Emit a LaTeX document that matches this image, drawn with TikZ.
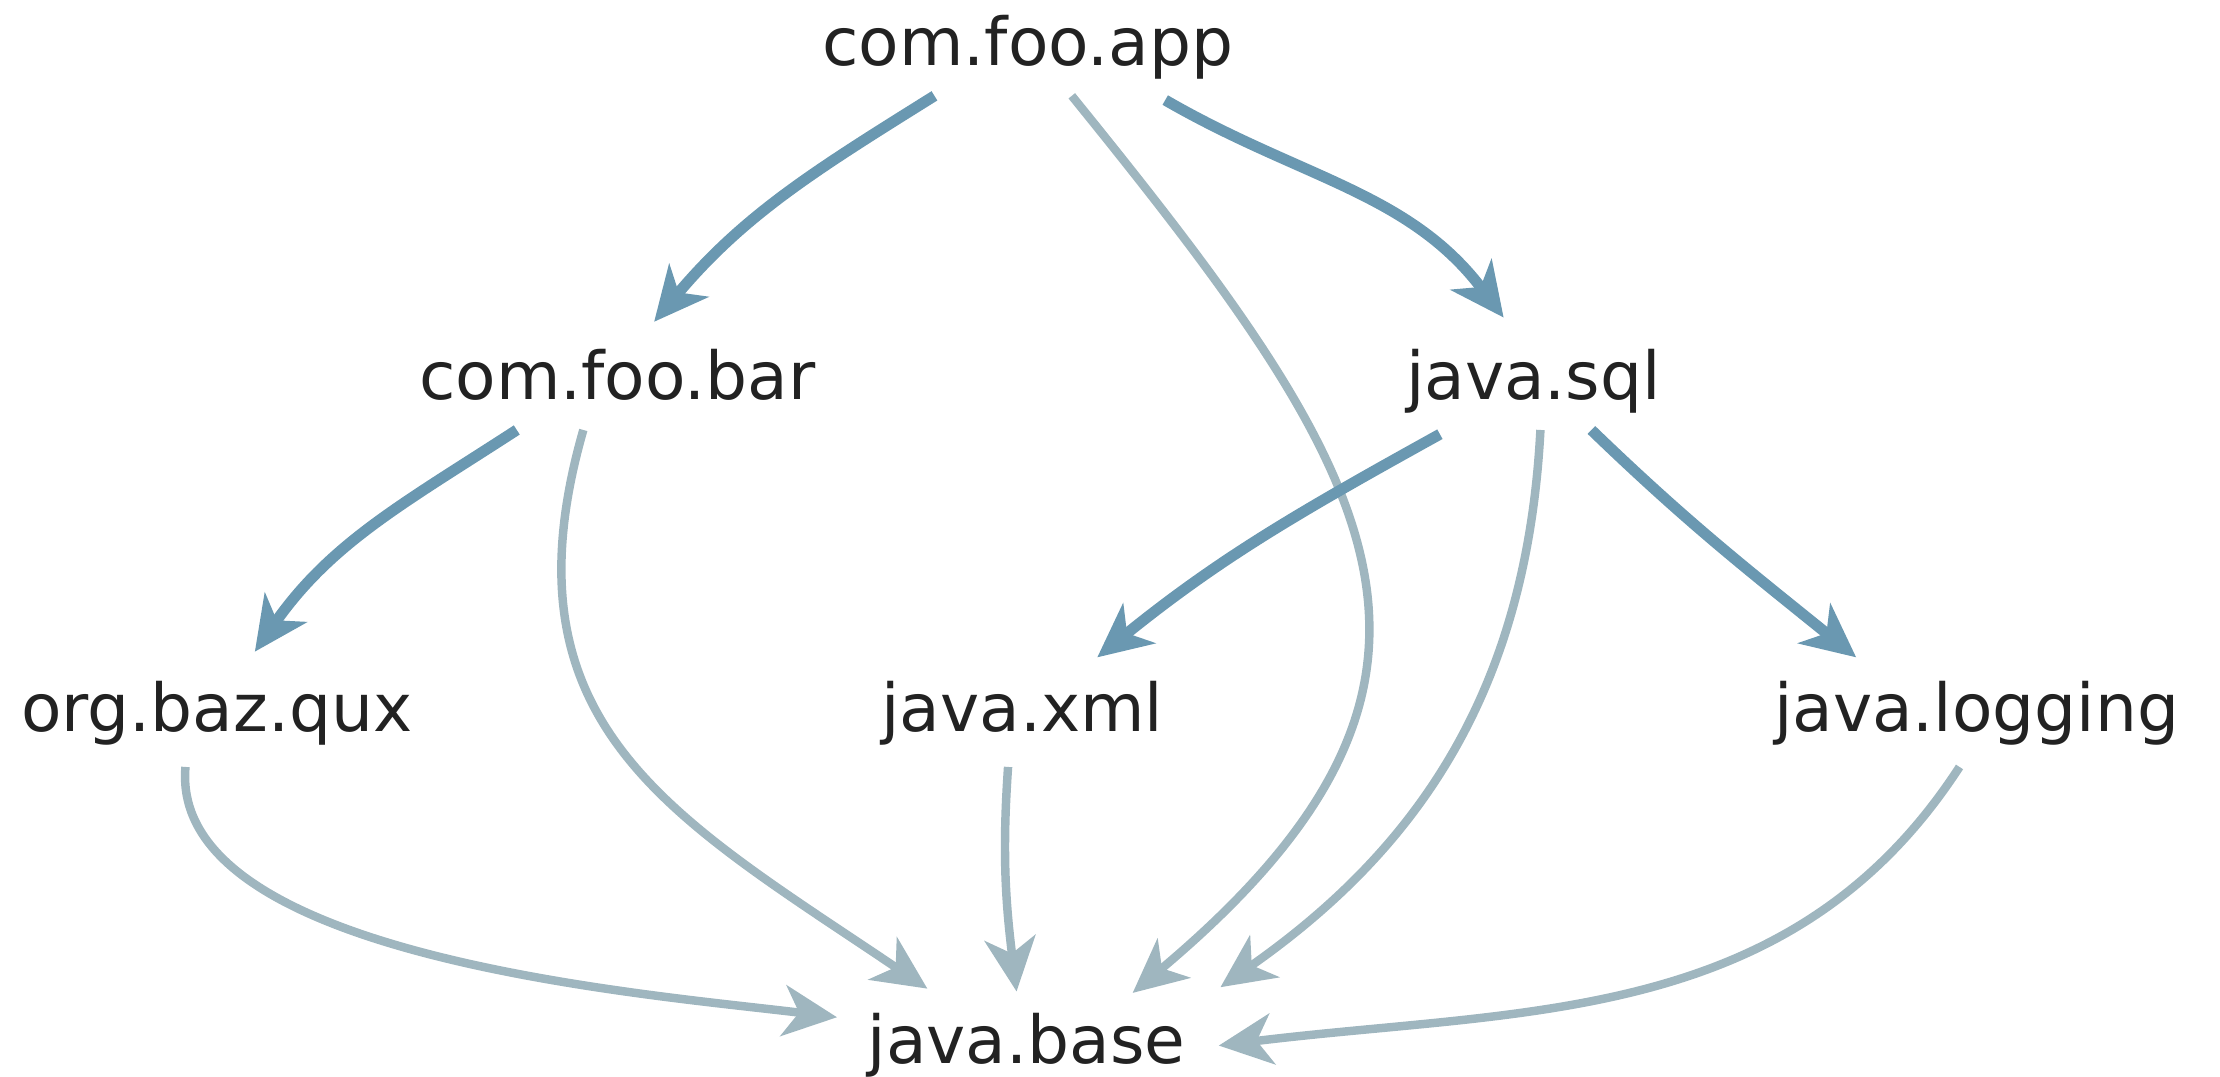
\documentclass[tikz,border=0pt]{standalone}
\usepackage{fontspec}
\setmainfont{DejaVu Sans}
\usetikzlibrary{arrows.meta}
\definecolor{darkdep}{HTML}{6A98B1}
\definecolor{lightdep}{HTML}{9FB6BF}
\definecolor{modtext}{HTML}{222222}
\begin{document}
\begin{tikzpicture}[
	module/.style={anchor=base,inner sep=1mm,text height=3.6mm,text depth=1.1mm,text=modtext,font=\fontsize{13.3}{16}\selectfont},
	direct/.style={draw=darkdep,line width=2.2pt,-{Stealth[length=3.8mm,width=3.6mm,inset=1.1mm]}},
	implied/.style={draw=lightdep,line width=1.7pt,-{Stealth[length=3.8mm,width=3.6mm,inset=1.1mm]}}]
	\useasboundingbox (0,0) rectangle (15.68,7.60);
	\node[module] (app) at (7.26,7.14) {com.foo.app};
	\node[module] (bar) at (4.36,4.78) {com.foo.bar};
	\node[module] (sql) at (10.83,4.78) {java.sql};
	\node[module] (qux) at (1.53,2.43) {org.baz.qux};
	\node[module] (xml) at (7.22,2.43) {java.xml};
	\node[module] (logging) at (13.96,2.43) {java.logging};
	\node[module] (base) at (7.25,0.09) {java.base};

	\draw[direct] ([xshift=-6.6mm]app.south) to[out=212,in=50] ([xshift=2.6mm,yshift=0.8mm]bar.north);
	\draw[implied] ([xshift=3.1mm]app.south) to[out=-51,in=40,looseness=1.4] ([xshift=7.5mm,yshift=0.3mm]base.north);
	\draw[direct] ([xshift=9.7mm,yshift=-0.3mm]app.south) to[out=-30,in=127] ([xshift=-2.1mm,yshift=1.1mm]sql.north);

	\draw[direct] ([xshift=-7.1mm]bar.south) to[out=213,in=55] ([xshift=2.7mm,yshift=1mm]qux.north);
	\draw[implied] ([xshift=-2.4mm]bar.south) to[out=254,in=146,looseness=1.2] ([xshift=-7mm,yshift=0.6mm]base.north);

	\draw[direct] ([xshift=-6.6mm,yshift=-0.3mm]sql.south) to[out=209,in=39] ([xshift=5.3mm,yshift=0.6mm]xml.north);
	\draw[implied] ([xshift=0.5mm]sql.south) to[out=-93,in=35] ([xshift=13.7mm,yshift=0.7mm]base.north);
	\draw[direct] ([xshift=4.1mm]sql.south) to[out=-44,in=141] ([xshift=-8.5mm,yshift=0.6mm]logging.north);

	\draw[implied] ([xshift=-2.2mm,yshift=-0.3mm]qux.south) to[out=-95,in=173,looseness=0.7] ([xshift=-1.1mm,yshift=2mm]base.west);
	\draw[implied] ([xshift=-1mm,yshift=-0.3mm]xml.south) to[out=-94,in=97] ([xshift=-0.7mm,yshift=0.4mm]base.north);
	\draw[implied] ([xshift=-1.2mm,yshift=-0.3mm]logging.south) to[out=237,in=7] ([xshift=1.3mm]base.east);
\end{tikzpicture}
\end{document}
